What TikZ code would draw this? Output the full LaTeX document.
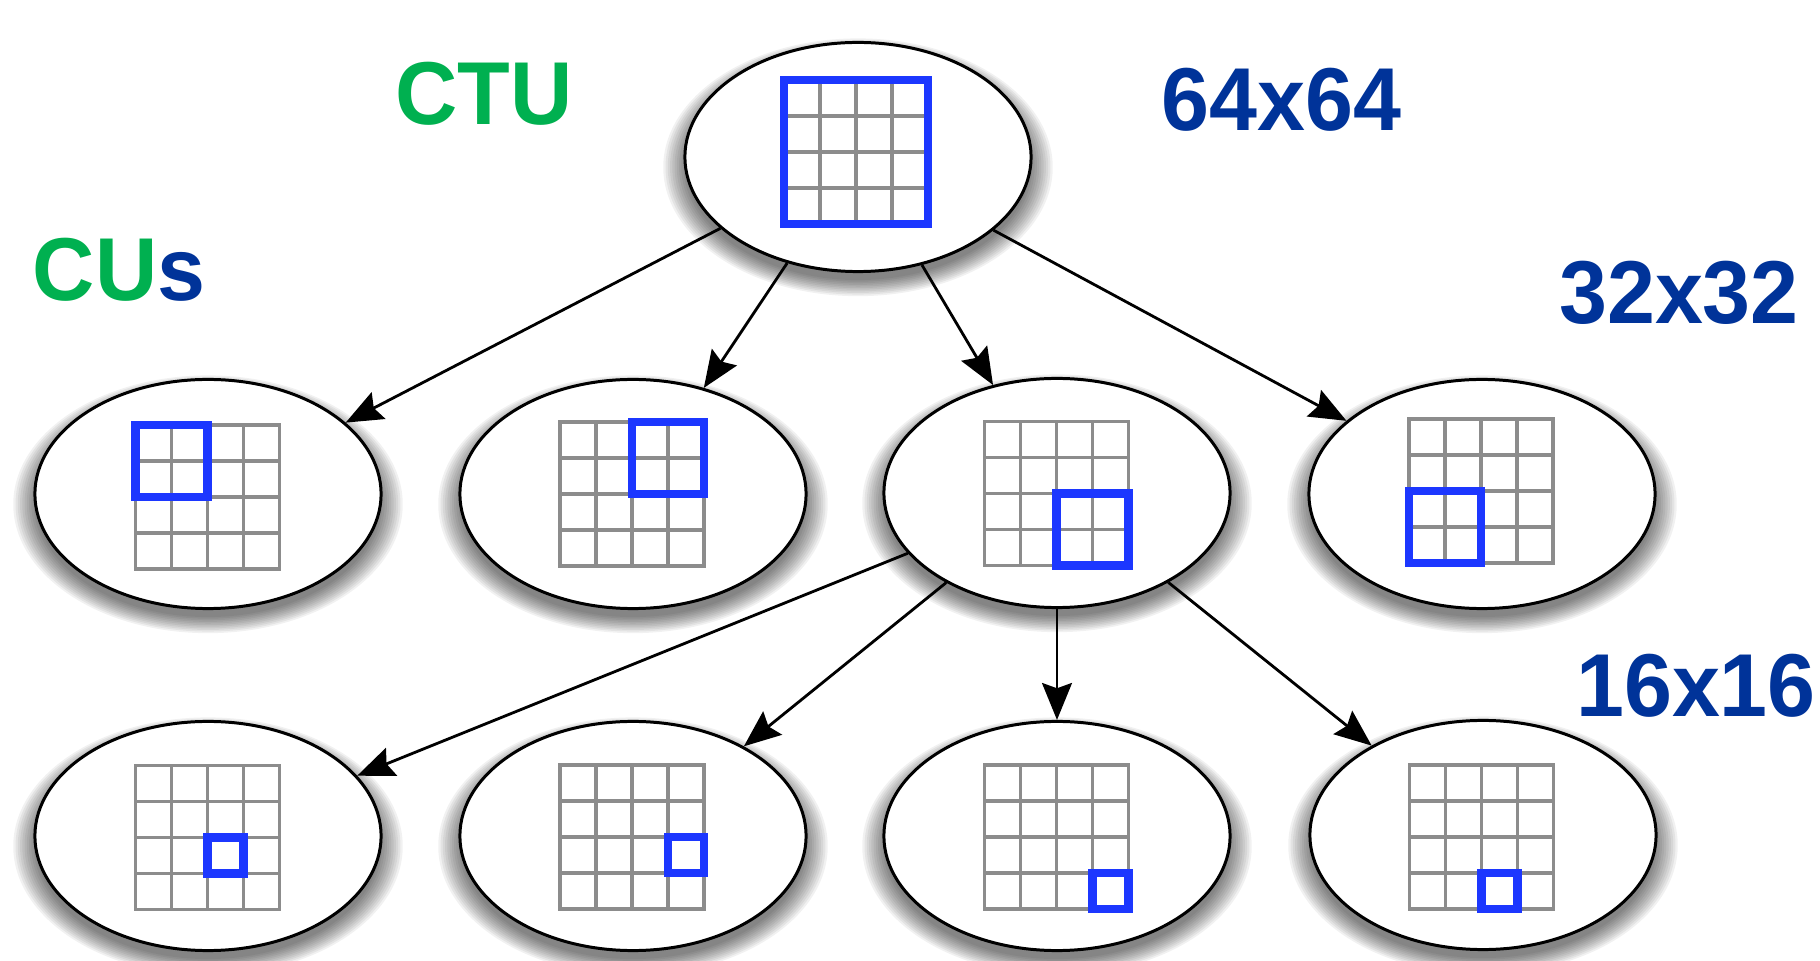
\documentclass[tikz,border=0pt]{standalone}
\usepackage{fontspec}
\setmainfont{Liberation Sans}
\usetikzlibrary{shapes.geometric,shadows,arrows.meta}

\definecolor{ctugreen}{RGB}{0,176,80}
\definecolor{sizeblue}{RGB}{0,51,153}
\definecolor{hiblue}{RGB}{28,55,255}
\definecolor{gridgray}{RGB}{140,140,140}

\tikzset{
  % soft shadow built from stacked translucent copies of the outline
  shadowlayer/.style={general shadow={shadow xshift=0pt, shadow yshift=-2.6pt, fill=black, opacity=0.055, shadow scale=#1}},
  softshadow/.style={
    shadowlayer=0.995, shadowlayer=1.008, shadowlayer=1.021, shadowlayer=1.034,
    shadowlayer=1.047, shadowlayer=1.060, shadowlayer=1.073, shadowlayer=1.086,
    shadowlayer=1.099, shadowlayer=1.112, shadowlayer=1.125
  },
  cunode/.style={ellipse, draw=black, line width=0.85pt, fill=white,
    minimum width=3.46cm, minimum height=2.29cm, inner sep=0pt, softshadow},
  link/.style={-{Stealth[length=10.5pt,width=8.5pt,inset=1.5pt]}, line width=0.8pt, draw=black},
  gridline/.style={draw=gridgray, line width=1pt, line cap=rect},
  hiline/.style={draw=hiblue, line width=2.3pt},
  lbl/.style={font=\fontsize{25.4pt}{30pt}\selectfont\bfseries, inner sep=0pt, xscale=0.965},
  greenlbl/.style={lbl, text=ctugreen},
  sizelbl/.style={lbl, text=sizeblue},
  % 4x4 block grid; #1,#2 = highlighted block column/row, #3 = block size in cells
  pics/cugrid/.style n args={3}{code={
    \foreach \k in {0,...,4}{
      \draw[gridline] (-72+36*\k,-72) -- (-72+36*\k,72);
      \draw[gridline] (-72,-72+36*\k) -- (72,-72+36*\k);
    }
    \draw[hiline] (-72+36*#1,-72+36*#2) rectangle (-72+36*#1+36*#3,-72+36*#2+36*#3);
  }}
}

\begin{document}
\begin{tikzpicture}[x=0.01cm, y=-0.01cm]
  \fill[white] (0,0) rectangle (1820,961);
  \useasboundingbox (0,0) rectangle (1820,961);

  % quadtree nodes
  \node[cunode] (root) at (858,157) {};
  \node[cunode] (a1) at (208,494) {};
  \node[cunode] (a2) at (633,494) {};
  \node[cunode] (a3) at (1057,493) {};
  \node[cunode] (a4) at (1482,494) {};
  \node[cunode] (b1) at (208,836) {};
  \node[cunode] (b2) at (633,836) {};
  \node[cunode] (b3) at (1057,836) {};
  \node[cunode] (b4) at (1483,835) {};

  % block grids with the selected partition
  \pic at (856,152) {cugrid={0}{0}{4}};
  \pic at (207.5,497) {cugrid={0}{0}{2}};
  \pic at (632,494) {cugrid={2}{0}{2}};
  \pic at (1056.5,493.5) {cugrid={2}{2}{2}};
  \pic at (1481,491) {cugrid={0}{2}{2}};
  \pic at (207.5,837.5) {cugrid={2}{2}{1}};
  \pic at (632,837) {cugrid={3}{2}{1}};
  \pic at (1056.5,837) {cugrid={3}{3}{1}};
  \pic at (1481.5,837) {cugrid={2}{3}{1}};

  % splits
  \foreach \c in {a1,a2,a3,a4} \draw[link] (root) -- (\c);
  \foreach \c in {b1,b2,b3,b4} \draw[link] (a3) -- (\c);

  % labels
  \node[greenlbl] (ctulbl) at (483.7,93.3) {CTU};
  \node[greenlbl] (culbl) at (119,270) {CU\textcolor{sizeblue}{s}};
  \node[sizelbl] (s64) at (1281.5,100) {64x64};
  \node[sizelbl] (s32) at (1679,292.5) {32x32};
  \node[sizelbl] (s16) at (1696,686) {16x16};
\end{tikzpicture}
\end{document}
